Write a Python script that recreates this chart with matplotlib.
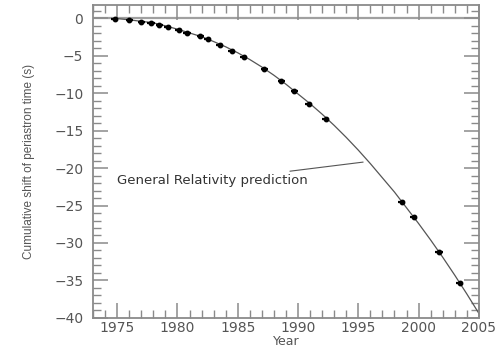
import numpy as np
import matplotlib
matplotlib.use("Agg")
import matplotlib.pyplot as plt
from matplotlib.ticker import MultipleLocator

# mesures (annee, decalage cumule en s)
annees = [1974.8, 1976.0, 1977.0, 1977.8, 1978.5, 1979.2, 1980.1, 1980.8,
          1981.9, 1982.5, 1983.5, 1984.5, 1985.5, 1987.2, 1988.6, 1989.7,
          1990.9, 1992.3, 1998.6, 1999.6, 2001.7, 2003.4]
decalage = [-0.1, -0.25, -0.5, -0.65, -0.85, -1.1, -1.5, -1.9,
            -2.4, -2.8, -3.6, -4.3, -5.2, -6.8, -8.4, -9.7,
            -11.5, -13.5, -24.5, -26.5, -31.2, -35.4]

# courbe de la relativite generale
annees_rg = [1974.8, 1976, 1977, 1978, 1979, 1980, 1981, 1982, 1983, 1984,
             1985, 1986, 1987, 1988, 1989, 1990, 1991, 1992, 1993, 1994,
             1995, 1996, 1997, 1998, 1999, 2000, 2001, 2002, 2003, 2004, 2005]
prediction_rg = [0.0, -0.2, -0.4, -0.6, -1.0, -1.45, -1.95, -2.45, -3.1, -3.8,
                 -4.6, -5.5, -6.5, -7.6, -8.8, -10.1, -11.4, -12.8, -14.3, -15.9,
                 -17.6, -19.4, -21.3, -23.2, -25.3, -27.4, -29.6, -31.9, -34.3,
                 -36.8, -39.4]

gris = "#8a8a8a"
texte = "#555555"

fig = plt.figure(figsize=(5.03, 3.47), dpi=100)
ax = fig.add_axes([0.185, 0.084, 0.767, 0.902])

ax.axhline(0, color="#a0a0a0", lw=1.6, zorder=1)
ax.plot(annees_rg, prediction_rg, color="#555555", lw=0.9, zorder=2)
ax.errorbar(annees, decalage, xerr=0.3, yerr=0.12, fmt="o", ms=3.2,
            color="black", ecolor="black", elinewidth=1.6, capsize=0, zorder=3)

ax.set_xlim(1973, 2005)
ax.set_ylim(-40, 1.8)
ax.xaxis.set_major_locator(MultipleLocator(5))
ax.xaxis.set_minor_locator(MultipleLocator(1))
ax.yaxis.set_major_locator(MultipleLocator(5))
ax.yaxis.set_minor_locator(MultipleLocator(1))
ax.tick_params(which="both", direction="in", top=True, right=True,
               color=gris, labelcolor=texte, labelsize=10)
ax.tick_params(which="major", length=11, width=1.1)
ax.tick_params(which="minor", length=5.5, width=1.0)
ax.tick_params(axis="y", which="major", pad=7)
ax.tick_params(axis="x", which="major", pad=2)
for s in ax.spines.values():
    s.set_color(gris)
    s.set_linewidth(1.3)

ax.set_xlabel("Year", fontsize=9, color=texte, labelpad=0)
ax.set_ylabel("Cumulative shift of periastron time (s)", fontsize=8.5,
              family=["Liberation Sans Narrow", "Liberation Sans", "DejaVu Sans"],
              color=texte, labelpad=14)

ax.annotate("General Relativity prediction", xy=(1995.4, -19.2),
            xytext=(1975.0, -21.7), fontsize=9.5, color="#333333",
            va="center", ha="left",
            arrowprops=dict(arrowstyle="-", color="#555555", lw=0.8,
                            shrinkA=2, shrinkB=0))

fig.savefig("out.png", dpi=100)
